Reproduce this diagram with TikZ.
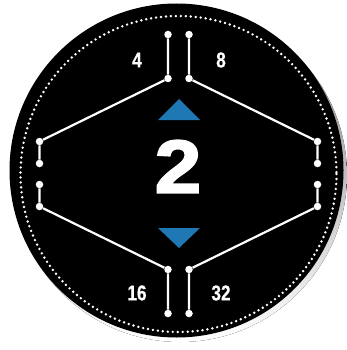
\documentclass[tikz,border=0pt]{standalone}
\usepackage{fontspec}
\setmainfont{Liberation Sans}
\newfontfamily\numfont{Liberation Sans Bold}[FakeStretch=0.8,FakeBold=0.6]
\newfontfamily\bigfont{Liberation Sans Bold}[FakeBold=2.5,FakeStretch=1.12]
\usetikzlibrary{calc}
\definecolor{shade}{RGB}{214,210,236}
\definecolor{cTri}{RGB}{31,120,180}
\tikzset{
  pin/.style={circle,fill=white,inner sep=0pt,minimum size=7.5pt},
  wire/.style={white,line width=2.2pt},
  lab/.style={text=white,inner sep=0pt,font=\numfont\fontsize{21.5}{21.5}\selectfont},
  big/.style={text=white,inner sep=0pt,font=\bigfont\fontsize{75}{75}\selectfont},
}
\begin{document}
\begin{tikzpicture}[x=1pt,y=-1pt]
  \useasboundingbox (0,0) rectangle (346,350);
  \fill[shade] (180,175) circle (167);
  \fill[black] (176.5,170.5) circle (167);
  \draw[white,line width=2.7pt,line cap=round,dash pattern=on 0pt off 4.98pt]
    (178.5,174) circle (158);
  % four branches of pins
  \foreach \q/\sx/\sy in {tl/-1/-1,tr/1/-1,bl/-1/1,br/1/1} {
    \node[pin] (\q1) at (178.5+10.5*\sx,174+139.5*\sy) {};
    \node[pin] (\q2) at (178.5+10.5*\sx,174+95.5*\sy) {};
    \node[pin] (\q3) at (178.5+139*\sx,174+32.5*\sy) {};
    \node[pin] (\q4) at (178.5+139*\sx,174+10.5*\sy) {};
    \draw[wire] (\q1) -- (\q2) -- (\q3) -- (\q4);
  }
  \node[lab] (n4) at (137,60) {4};
  \node[lab] (n8) at (221,60) {8};
  \node[lab] (n16) at (137,293) {16};
  \node[lab] (n32) at (221,293) {32};
  \node[big] (val) at (178,166.5) {2};
  \fill[cTri] (158,120) -- (179,99) -- (200,120) -- cycle;
  \fill[cTri] (158,228) -- (179,248) -- (200,228) -- cycle;
\end{tikzpicture}
\end{document}
